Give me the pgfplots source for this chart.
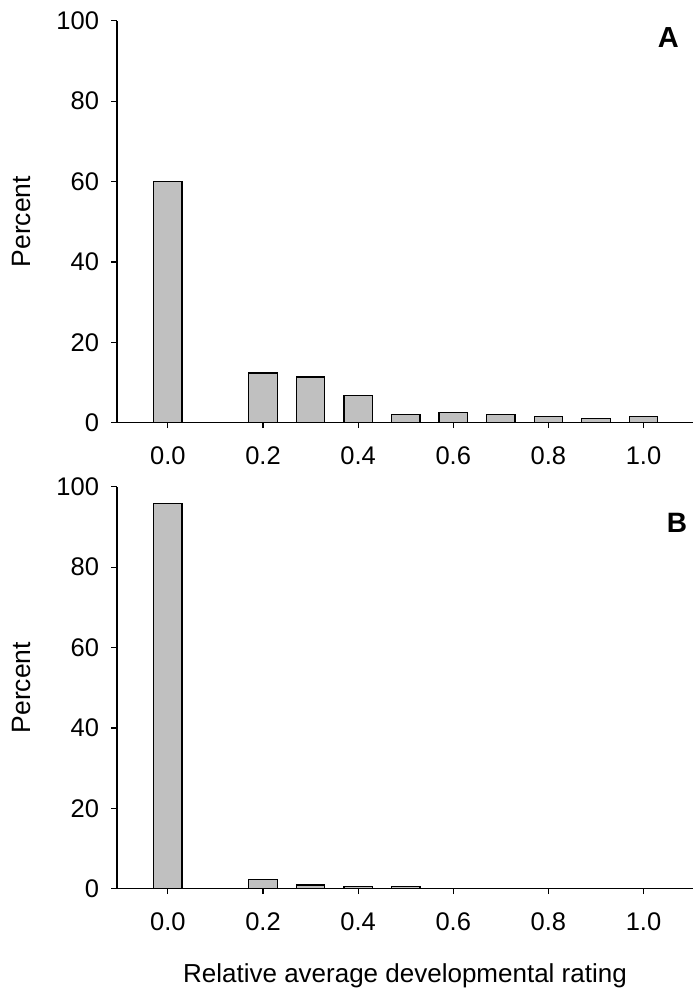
\documentclass[border=0pt]{standalone}
\usepackage{pgfplots}
\pgfplotsset{compat=1.18}
\usepackage{fontspec}
\setmainfont{Liberation Sans}
\definecolor{barfill}{RGB}{192,192,192}
\begin{document}
\begin{tikzpicture}
\path[use as bounding box] (0pt,0pt) rectangle (700pt,-994pt);
\pgfplotsset{
  myax/.style={
    scale only axis, width=576pt, height=402pt,
    xmin=-0.107, xmax=1.104, ymin=0, ymax=100,
    axis x line=bottom, axis y line=left,
    axis line style={-, line width=1.2pt},
    tick style={black, line width=1.2pt},
    tick align=outside, major tick length=5.5pt,
    xtick={0,0.2,0.4,0.6,0.8,1.0},
    ytick={0,20,40,60,80,100},
    xticklabel style={/pgf/number format/fixed, /pgf/number format/fixed zerofill, /pgf/number format/precision=1, yshift=-15pt},
    yticklabel style={xshift=-9pt},
    tick label style={font=\fontsize{25.5}{30}\selectfont},
    /pgf/number format/assume math mode=true,
    ylabel={Percent},
    every axis y label/.style={at={(rel axis cs:0,0.5)}, anchor=center, xshift=-95pt, rotate=90, font=\fontsize{26.5}{30}\selectfont},
    every axis x label/.style={at={(rel axis cs:0.5,0)}, anchor=center, yshift=-87.5pt, font=\fontsize{26}{30}\selectfont},
    ybar, bar width=28.5pt,
    clip=false,
  },
  bars/.style={fill=barfill, draw=black, line width=1.3pt}
}
\begin{axis}[myax, at={(117pt,-422.7pt)}, anchor=south west]
\addplot[bars] coordinates {(0.0,60.0) (0.2,12.4) (0.3,11.4) (0.4,6.7) (0.5,2.0) (0.6,2.5) (0.7,2.0) (0.8,1.6) (0.9,1.0) (1.0,1.6)};
\node[font=\fontsize{29}{32}\selectfont\bfseries] at (rel axis cs:0.957,0.958) {A};
\end{axis}
\begin{axis}[myax, at={(117pt,-888.7pt)}, anchor=south west,
  xlabel={Relative average developmental rating}]
\addplot[bars] coordinates {(0.0,95.8) (0.2,2.3) (0.3,0.9) (0.4,0.5) (0.5,0.5)};
\node[font=\fontsize{28}{32}\selectfont\bfseries] at (rel axis cs:0.972,0.91) {B};
\end{axis}
\end{tikzpicture}
\end{document}
